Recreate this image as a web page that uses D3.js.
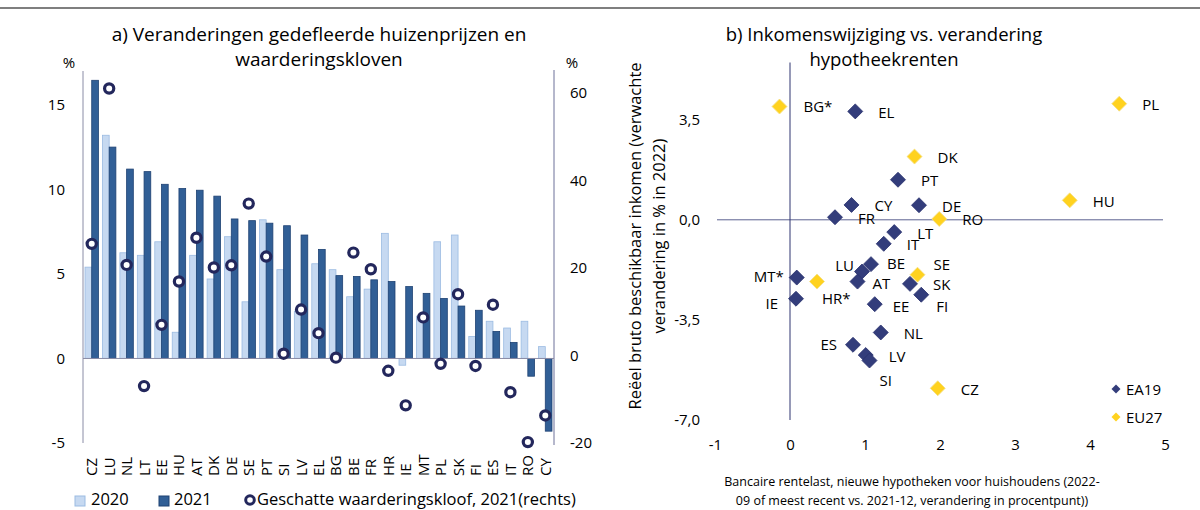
<!DOCTYPE html>
<html lang="nl">
<head>
<meta charset="utf-8">
<title>Huizenprijzen en hypotheekrenten</title>
<style>
    body { margin: 0; background: #fff; }
    svg text { font-family: "Open Sans", sans-serif; fill: #000; }
</style>
</head>
<body>
<div id="chart"></div>
<script src="https://cdn.jsdelivr.net/npm/d3@7"></script>
<script>
    // --- panel a: house prices and valuation gaps
    const countries = ["CZ", "LU", "NL", "LT", "EE", "HU", "AT", "DK", "DE", "SE", "PT", "SI", "LV", "EL",
        "BG", "BE", "FR", "HR", "IE", "MT", "PL", "SK", "FI", "ES", "IT", "RO", "CY"];
    const house2020 = [5.4, 13.2, 6.25, 6.1, 6.9, 1.55, 6.1, 4.7, 7.2, 3.35, 8.2, 5.25, 2.8, 5.6,
        5.25, 3.65, 4.1, 7.4, -0.4, 2.5, 6.9, 7.3, 1.3, 2.2, 1.8, 2.2, 0.7];
    const house2021 = [16.45, 12.5, 11.2, 11.05, 10.3, 10.05, 9.95, 9.6, 8.25, 8.15, 8.0, 7.85, 7.3, 6.45,
        4.9, 4.85, 4.65, 4.55, 4.25, 3.85, 3.55, 3.1, 2.85, 1.6, 0.95, -1.05, -4.3];
    const valuationGap = [25.5, 61, 20.7, -7, 7, 16.9, 26.9, 20.1, 20.6, 34.7, 22.6, 0.4, 10.5, 5.1,
        -0.5, 23.5, 19.7, -3.5, -11.4, 8.7, -1.9, 14, -2.4, 11.6, -8.4, -19.8, -13.7];
    const leftTicks = [-5, 0, 5, 10, 15];
    const rightTicks = [-20, 0, 20, 40, 60];

    // --- panel b: income change vs. mortgage rate change
    const ea19Names = ["EL", "PT", "CY", "FR", "DE", "LT", "IT", "BE", "LU", "AT", "MT*", "IE", "EE",
        "SK", "FI", "NL", "ES", "LV", "SI"];
    const ea19Rate = [0.87, 1.44, 0.82, 0.60, 1.72, 1.39, 1.25, 1.08, 0.96, 0.90, 0.09, 0.08, 1.13,
        1.60, 1.75, 1.21, 0.84, 1.01, 1.06];
    const ea19Income = [3.79, 1.40, 0.52, 0.09, 0.51, -0.43, -0.84, -1.55, -1.81, -2.16, -2.02, -2.76, -2.95,
        -2.24, -2.62, -3.94, -4.37, -4.73, -4.92];
    const eu27Names = ["BG*", "PL", "DK", "HU", "RO", "SE", "HR*", "CZ"];
    const eu27Rate = [-0.14, 4.39, 1.66, 3.73, 1.99, 1.70, 0.36, 1.97];
    const eu27Income = [3.96, 4.06, 2.21, 0.68, 0.03, -1.92, -2.16, -5.89];
    const rateTicks = [-1, 0, 1, 2, 3, 4, 5];
    const incomeTicks = [-7, -3.5, 0, 3.5];

    const nl = d3.formatLocale({decimal: ",", thousands: ".", grouping: [3], currency: ["€", ""], minus: "-"});
    const fmtInt = nl.format("d");
    const fmtOne = nl.format(".1f");

    const svg = d3.select("#chart").append("svg")
        .attr("width", 1200)
        .attr("height", 510);

    svg.append("line")
        .attr("x1", 0).attr("x2", 1200)
        .attr("y1", 8).attr("y2", 8)
        .attr("stroke", "#000").attr("stroke-width", 1.2);

    // ================= panel a =================
    const x = d3.scaleBand().domain(countries).range([83, 554]).paddingInner(0.23).paddingOuter(0.115);
    const xs = d3.scaleBand().domain(["2020", "2021"]).range([0, x.bandwidth()]);
    const yL = d3.scaleLinear().domain([-5, 17]).range([443, 71]);
    const yR = d3.scaleLinear().domain([-20, 65]).range([443, 71]);

    const titleA = svg.append("text")
        .attr("x", 319).attr("y", 41)
        .attr("text-anchor", "middle")
        .style("font-size", "19px");
    titleA.append("tspan").attr("x", 319).text("a) Veranderingen gedefleerde huizenprijzen en");
    titleA.append("tspan").attr("x", 319).attr("dy", 25).text("waarderingskloven");

    const rows = countries.map((c, i) => ({c: c, a: house2020[i], b: house2021[i], g: valuationGap[i]}));

    const bars = svg.append("g");
    bars.selectAll("rect.y2020")
        .data(rows)
        .enter().append("rect")
        .attr("class", "y2020")
        .attr("x", d => x(d.c) + xs("2020"))
        .attr("width", xs.bandwidth())
        .attr("y", d => yL(Math.max(0, d.a)))
        .attr("height", d => Math.abs(yL(d.a) - yL(0)))
        .attr("fill", "#c6d9f1")
        .attr("stroke", "#9bbbe2")
        .attr("stroke-width", 0.8);
    bars.selectAll("rect.y2021")
        .data(rows)
        .enter().append("rect")
        .attr("class", "y2021")
        .attr("x", d => x(d.c) + xs("2021"))
        .attr("width", xs.bandwidth())
        .attr("y", d => yL(Math.max(0, d.b)))
        .attr("height", d => Math.abs(yL(d.b) - yL(0)))
        .attr("fill", "#315f96")
        .attr("stroke", "#1f4273")
        .attr("stroke-width", 0.8);

    // axes
    const axisColor = "#8a8ca6";
    svg.append("line")
        .attr("x1", 83).attr("x2", 83).attr("y1", 71).attr("y2", 443)
        .attr("stroke", axisColor);
    svg.append("line")
        .attr("x1", 554).attr("x2", 554).attr("y1", 70).attr("y2", 445)
        .attr("stroke", "#6d7099");
    svg.append("line")
        .attr("x1", 83).attr("x2", 554).attr("y1", yL(0)).attr("y2", yL(0))
        .attr("stroke", axisColor);

    const gL = svg.append("g")
        .attr("transform", "translate(65,0)")
        .call(d3.axisLeft(yL).tickValues(leftTicks).tickFormat(fmtInt).tickSize(0).tickPadding(0));
    gL.select(".domain").remove();
    gL.selectAll("text").style("font-size", "15px").style("font-family", "Open Sans");

    const gR = svg.append("g")
        .attr("transform", "translate(570,0)")
        .call(d3.axisRight(yR).tickValues(rightTicks).tickFormat(fmtInt).tickSize(0).tickPadding(0));
    gR.select(".domain").remove();
    gR.selectAll("text").style("font-size", "15px").style("font-family", "Open Sans");

    svg.append("text").attr("x", 69).attr("y", 68).attr("text-anchor", "middle")
        .style("font-size", "15px").text("%");
    svg.append("text").attr("x", 572).attr("y", 68).attr("text-anchor", "middle")
        .style("font-size", "15px").text("%");

    // rotated country labels
    svg.append("g").selectAll("text")
        .data(countries)
        .enter().append("text")
        .attr("transform", d => "translate(" + (x(d) + x.bandwidth() / 2 + 5.5) + ",476) rotate(-90)")
        .style("font-size", "15px")
        .text(d => d);

    // valuation gap markers (right axis)
    svg.append("g").selectAll("circle")
        .data(rows)
        .enter().append("circle")
        .attr("cx", d => x(d.c) + x.bandwidth() / 2)
        .attr("cy", d => yR(d.g))
        .attr("r", 4.6)
        .attr("fill", "#fff")
        .attr("stroke", "#23275c")
        .attr("stroke-width", 3.2);

    // legend a
    const legA = svg.append("g");
    legA.append("rect").attr("x", 75).attr("y", 496).attr("width", 10).attr("height", 10)
        .attr("fill", "#c6d9f1").attr("stroke", "#9bbbe2");
    legA.append("text").attr("x", 91).attr("y", 505).style("font-size", "16.5px").text("2020");
    legA.append("rect").attr("x", 159).attr("y", 496).attr("width", 10).attr("height", 10)
        .attr("fill", "#315f96").attr("stroke", "#1f4273");
    legA.append("text").attr("x", 174).attr("y", 505).style("font-size", "16.5px").text("2021");
    legA.append("circle").attr("cx", 250).attr("cy", 500).attr("r", 4.3)
        .attr("fill", "#fff").attr("stroke", "#23275c").attr("stroke-width", 3);
    legA.append("text").attr("x", 257).attr("y", 505).style("font-size", "16.5px")
        .text("Geschatte waarderingskloof, 2021(rechts)");

    // ================= panel b =================
    const xB = d3.scaleLinear().domain([-1, 5]).range([715, 1165]);
    const yB = d3.scaleLinear().domain([-7, 5.5]).range([420, 62.5]);

    const titleB = svg.append("text")
        .attr("x", 884).attr("y", 41)
        .attr("text-anchor", "middle")
        .style("font-size", "18.5px");
    titleB.append("tspan").attr("x", 884).text("b) Inkomenswijziging vs. verandering");
    titleB.append("tspan").attr("x", 884).attr("dy", 25).text("hypotheekrenten");

    svg.append("line")
        .attr("x1", xB(-1) + 2).attr("x2", xB(5) - 2).attr("y1", yB(0)).attr("y2", yB(0))
        .attr("stroke", "#5c6190");
    svg.append("line")
        .attr("x1", xB(0)).attr("x2", xB(0)).attr("y1", yB(5.5)).attr("y2", yB(-7))
        .attr("stroke", "#2f3570");

    const gX = svg.append("g")
        .attr("transform", "translate(0,439)")
        .call(d3.axisBottom(xB).tickValues(rateTicks).tickFormat(fmtInt).tickSize(0).tickPadding(0));
    gX.select(".domain").remove();
    gX.selectAll("text").style("font-size", "15px").style("font-family", "Open Sans");

    const gY = svg.append("g")
        .attr("transform", "translate(700,0)")
        .call(d3.axisLeft(yB).tickValues(incomeTicks).tickFormat(fmtOne).tickSize(0).tickPadding(0));
    gY.select(".domain").remove();
    gY.selectAll("text").style("font-size", "15px").style("font-family", "Open Sans");

    const yTitle = svg.append("text")
        .attr("transform", "translate(641,236) rotate(-90)")
        .attr("text-anchor", "middle")
        .style("font-size", "16.5px");
    yTitle.append("tspan").attr("x", 0).text("Reëel bruto beschikbaar inkomen (verwachte");
    yTitle.append("tspan").attr("x", 0).attr("dy", 24).text("verandering in % in 2022)");

    const xTitle = svg.append("text")
        .attr("x", 912).attr("y", 486)
        .attr("text-anchor", "middle")
        .style("font-size", "12.5px");
    xTitle.append("tspan").attr("x", 912).text("Bancaire rentelast, nieuwe hypotheken voor huishoudens (2022-");
    xTitle.append("tspan").attr("x", 912).attr("dy", 19).text("09 of meest recent vs. 2021-12, verandering in procentpunt))");

    const ea19 = ea19Names.map((n, i) => ({n: n, x: ea19Rate[i], y: ea19Income[i]}));
    const eu27 = eu27Names.map((n, i) => ({n: n, x: eu27Rate[i], y: eu27Income[i]}));

    const diamond = d3.symbol().type(d3.symbolSquare).size(112);
    const navy = "#333d7b";
    const yellow = "#ffd21f";

    svg.append("g").selectAll("path")
        .data(eu27)
        .enter().append("path")
        .attr("d", diamond)
        .attr("transform", d => "translate(" + xB(d.x) + "," + yB(d.y) + ") rotate(45)")
        .attr("fill", yellow)
        .attr("stroke", "#f3df86")
        .attr("stroke-width", 0.8);
    svg.append("g").selectAll("path")
        .data(ea19)
        .enter().append("path")
        .attr("d", diamond)
        .attr("transform", d => "translate(" + xB(d.x) + "," + yB(d.y) + ") rotate(45)")
        .attr("fill", navy)
        .attr("stroke", "#2a336f")
        .attr("stroke-width", 0.8);

    // label placement tweaks, otherwise labels sit right of the marker
    const labelPlace = {
        "BE": [16, -1, "start"], "AT": [15, 2, "start"], "LU": [-8, -6, "end"],
        "MT*": [-13, -1, "end"], "HR*": [5, 17, "start"], "IE": [-18, 5, "end"],
        "EE": [18, 2, "start"], "ES": [-16, 0, "end"], "SI": [10, 20, "start"],
        "SE": [16, -10, "start"], "FI": [15, 12, "start"], "BG*": [24, 0, "start"]
    };
    svg.append("g").selectAll("text")
        .data(eu27.concat(ea19))
        .enter().append("text")
        .attr("x", d => xB(d.x) + (labelPlace[d.n] || [23])[0])
        .attr("y", d => yB(d.y) + (labelPlace[d.n] || [23, 1])[1] + 5.5)
        .attr("text-anchor", d => (labelPlace[d.n] || [0, 0, "start"])[2])
        .style("font-size", "15px")
        .text(d => d.n);

    // legend b
    const legDiamond = d3.symbol().type(d3.symbolSquare).size(40);
    const legB = svg.append("g");
    [["EA19", navy, 389], ["EU27", yellow, 417]].forEach(function (l) {
        legB.append("path")
            .attr("d", legDiamond)
            .attr("transform", "translate(1116," + l[2] + ") rotate(45)")
            .attr("fill", l[1]);
        legB.append("text").attr("x", 1126).attr("y", l[2] + 5.5)
            .style("font-size", "15px").text(l[0]);
    });
</script>
</body>
</html>
